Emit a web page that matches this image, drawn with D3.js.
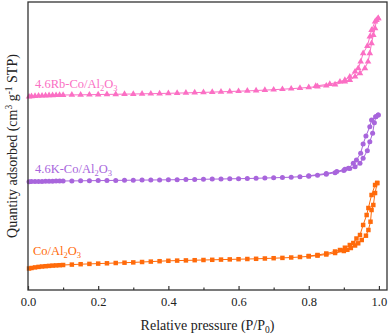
<!DOCTYPE html>
<html>
<head>
<meta charset="utf-8">
<script src="https://cdn.jsdelivr.net/npm/d3@7"></script>
<style>
  body { margin: 0; background: #fff; }
  svg { display: block; font-family: "Liberation Serif", "Times New Roman", serif; }
</style>
</head>
<body>
<svg id="chart" width="390" height="336"></svg>
<script>
// Relative pressure grid shared by the low/mid pressure part of every isotherm
const lowP = [0.003, 0.01, 0.02, 0.03, 0.04, 0.05, 0.06, 0.07, 0.08, 0.09, 0.1,
  0.125, 0.15, 0.175, 0.2, 0.225, 0.25, 0.275, 0.3, 0.325, 0.35, 0.375, 0.4,
  0.425, 0.45, 0.475, 0.5, 0.525, 0.55, 0.575, 0.6, 0.625, 0.65, 0.675, 0.7,
  0.725, 0.75, 0.775, 0.8, 0.825, 0.85, 0.875];

// Co/Al2O3 (quantities already offset for stacking)
const coLowQ = [21.5, 22, 22.6, 23.1, 23.5, 23.8, 24.1, 24.4, 24.6, 24.8, 25.0,
  25.4, 25.8, 26.1, 26.4, 26.7, 27.0, 27.3, 27.6, 28.0, 28.4, 28.8, 29.2,
  29.4, 29.6, 29.8, 30.0, 30.2, 30.4, 30.6, 30.8, 31.0, 31.2, 31.5, 31.8,
  32.1, 32.5, 33.0, 33.6, 34.4, 35.5, 37.0];
const coTailP = [0.9, 0.91, 0.92, 0.932, 0.941, 0.951, 0.963, 0.970, 0.976, 0.979, 0.984, 0.989, 0.995];
const coTailQ = [39.0, 40.2, 42.0, 44.5, 46.7, 50.0, 54.3, 60.0, 68.3, 80.0, 85.0, 97.0, 107.0];
const coDesP = [0.995, 0.989, 0.979, 0.970, 0.965, 0.955, 0.946, 0.936, 0.927, 0.917, 0.903, 0.889, 0.875, 0.85, 0.825, 0.8];
const coDesQ = [107, 105, 95, 82, 75, 65, 55, 51.5, 47, 45, 42.3, 40, 38.5, 36.5, 35.0, 34.0];

// 4.6K-Co/Al2O3
const kLowQ = [108.3, 108.4, 108.5, 108.6, 108.6, 108.7, 108.8, 108.8, 108.9, 108.9, 109.0,
  109.1, 109.2, 109.3, 109.4, 109.5, 109.6, 109.7, 109.8, 109.9, 110.0, 110.1, 110.2,
  110.3, 110.5, 110.6, 110.7, 110.9, 111.0, 111.2, 111.3, 111.5, 111.7, 112.0, 112.2,
  112.5, 112.8, 113.3, 113.8, 114.7, 115.8, 117.3];
const kTailP = [0.9, 0.917, 0.932, 0.946, 0.955, 0.967, 0.974, 0.982, 0.987, 0.991, 0.998];
const kTailQ = [119.5, 121.5, 123.3, 126.7, 131.7, 139.3, 148.3, 156.7, 167.3, 173.3, 175];
const kDesP = [0.998, 0.991, 0.979, 0.974, 0.963, 0.955, 0.948, 0.936, 0.927, 0.913, 0.903, 0.88, 0.85, 0.8];
const kDesQ = [175, 173.3, 170, 163.3, 154, 146, 136.7, 130, 126.7, 121.7, 120.7, 118.5, 116.5, 114.2];

// 4.6Rb-Co/Al2O3
const rbLowQ = [193.3, 193.6, 193.9, 194.1, 194.3, 194.4, 194.6, 194.7, 194.8, 194.9, 195.0,
  195.1, 195.2, 195.3, 195.5, 195.6, 195.7, 195.9, 196.0, 196.2, 196.3, 196.5, 196.7,
  196.9, 197.1, 197.4, 197.6, 197.9, 198.2, 198.5, 198.8, 199.1, 199.5, 199.9, 200.3,
  200.8, 201.3, 201.9, 202.6, 203.4, 204.3, 205.4];
const rbTailP = [0.903, 0.917, 0.932, 0.946, 0.960, 0.969, 0.974, 0.979, 0.984, 0.989, 0.993, 0.998];
const rbTailQ = [208.3, 210, 213.3, 216.7, 221.7, 228.3, 236.7, 246.7, 255, 261.7, 270, 271.7];
const rbDesP = [0.998, 0.989, 0.979, 0.974, 0.967, 0.955, 0.948, 0.941, 0.932, 0.917, 0.903, 0.889, 0.86, 0.82];
const rbDesQ = [271.7, 268.3, 260, 253.3, 244, 236.7, 228.3, 221.7, 218.3, 213.3, 210, 208.3, 206, 204];

const xTicks = [0, 0.2, 0.4, 0.6, 0.8, 1.0];
const xMinorTicks = [0.1, 0.3, 0.5, 0.7, 0.9];

const zip = (ps, qs) => ps.map((p, i) => ({ p: p, q: qs[i] }));

const series = [
  { name: "Co", color: "#ff6a0a", symbol: d3.symbolSquare, size: 20,
    ads: zip(lowP.concat(coTailP), coLowQ.concat(coTailQ)), des: zip(coDesP, coDesQ),
    label: { main: "Co/Al", sub1: "2", mid: "O", sub2: "3", p: 0.014, q: 35 } },
  { name: "K", color: "#a865dc", symbol: d3.symbolCircle, size: 20,
    ads: zip(lowP.concat(kTailP), kLowQ.concat(kTailQ)), des: zip(kDesP, kDesQ),
    label: { main: "4.6K-Co/Al", sub1: "2", mid: "O", sub2: "3", p: 0.02, q: 117 } },
  { name: "Rb", color: "#fb6fc4", symbol: d3.symbolTriangle, size: 19,
    ads: zip(lowP.concat(rbTailP), rbLowQ.concat(rbTailQ)), des: zip(rbDesP, rbDesQ),
    label: { main: "4.6Rb-Co/Al", sub1: "2", mid: "O", sub2: "3", p: 0.02, q: 202 } }
];

const svg = d3.select("#chart");
const mLeft = 28, mRight = 387, mTop = 2, mBottom = 290;

const x = d3.scaleLinear().domain([0, 1.023]).range([mLeft, mRight]);
const y = d3.scaleLinear().domain([0, 288]).range([mBottom, mTop]);

const line = d3.line().x(d => x(d.p)).y(d => y(d.q));

// curves
series.forEach(s => {
  const g = svg.append("g");
  [s.ads, s.des].forEach(pts => {
    g.append("path")
      .attr("d", line(pts))
      .attr("fill", "none")
      .attr("stroke", s.color)
      .attr("stroke-width", 1);
    g.selectAll(null)
      .data(pts)
      .enter()
      .append("path")
      .attr("d", d3.symbol().type(s.symbol).size(s.size))
      .attr("transform", d => `translate(${x(d.p)},${y(d.q)})`)
      .attr("fill", s.color);
  });

  const t = g.append("text")
    .attr("x", x(s.label.p))
    .attr("y", y(s.label.q))
    .attr("fill", s.color)
    .attr("font-size", 12.5);
  t.append("tspan").text(s.label.main);
  t.append("tspan").attr("font-size", 8.5).attr("dy", 3).text(s.label.sub1);
  t.append("tspan").attr("dy", -3).text(s.label.mid);
  t.append("tspan").attr("font-size", 8.5).attr("dy", 3).text(s.label.sub2);
});

// frame
svg.append("rect")
  .attr("x", mLeft).attr("y", mTop)
  .attr("width", mRight - mLeft).attr("height", mBottom - mTop)
  .attr("fill", "none")
  .attr("stroke", "#333")
  .attr("stroke-width", 1.3);

// x axis, ticks pointing inward
const xAxis = svg.append("g")
  .attr("transform", `translate(0,${mBottom})`)
  .call(d3.axisBottom(x).tickValues(xTicks).tickFormat(d3.format(".1f"))
    .tickSize(-4).tickPadding(7));
xAxis.select(".domain").remove();
xAxis.selectAll(".tick line").attr("stroke", "#333").attr("stroke-width", 1.2);
xAxis.selectAll(".tick text")
  .attr("font-family", "Liberation Serif, Times New Roman, serif")
  .attr("font-size", 12.5)
  .attr("fill", "#222");

const xMinor = svg.append("g")
  .attr("transform", `translate(0,${mBottom})`)
  .call(d3.axisBottom(x).tickValues(xMinorTicks).tickFormat("").tickSize(-2.5));
xMinor.select(".domain").remove();
xMinor.selectAll(".tick line").attr("stroke", "#333").attr("stroke-width", 1.2);

// axis titles
const xt = svg.append("text")
  .attr("x", (mLeft + mRight) / 2)
  .attr("y", 330)
  .attr("text-anchor", "middle")
  .attr("font-size", 14)
  .attr("fill", "#222");
xt.append("tspan").text("Relative pressure (P/P");
xt.append("tspan").attr("font-size", 9.5).attr("dy", 3).text("0");
xt.append("tspan").attr("dy", -3).text(")");

const yt = svg.append("text")
  .attr("transform", `translate(17,${(mTop + mBottom) / 2}) rotate(-90)`)
  .attr("text-anchor", "middle")
  .attr("font-size", 14)
  .attr("fill", "#222");
yt.append("tspan").text("Quantity adsorbed (cm");
yt.append("tspan").attr("font-size", 9.5).attr("dy", -5).text("3");
yt.append("tspan").attr("dy", 5).text(" g");
yt.append("tspan").attr("font-size", 9.5).attr("dy", -5).text("-1");
yt.append("tspan").attr("dy", 5).text(" STP)");
</script>
</body>
</html>
